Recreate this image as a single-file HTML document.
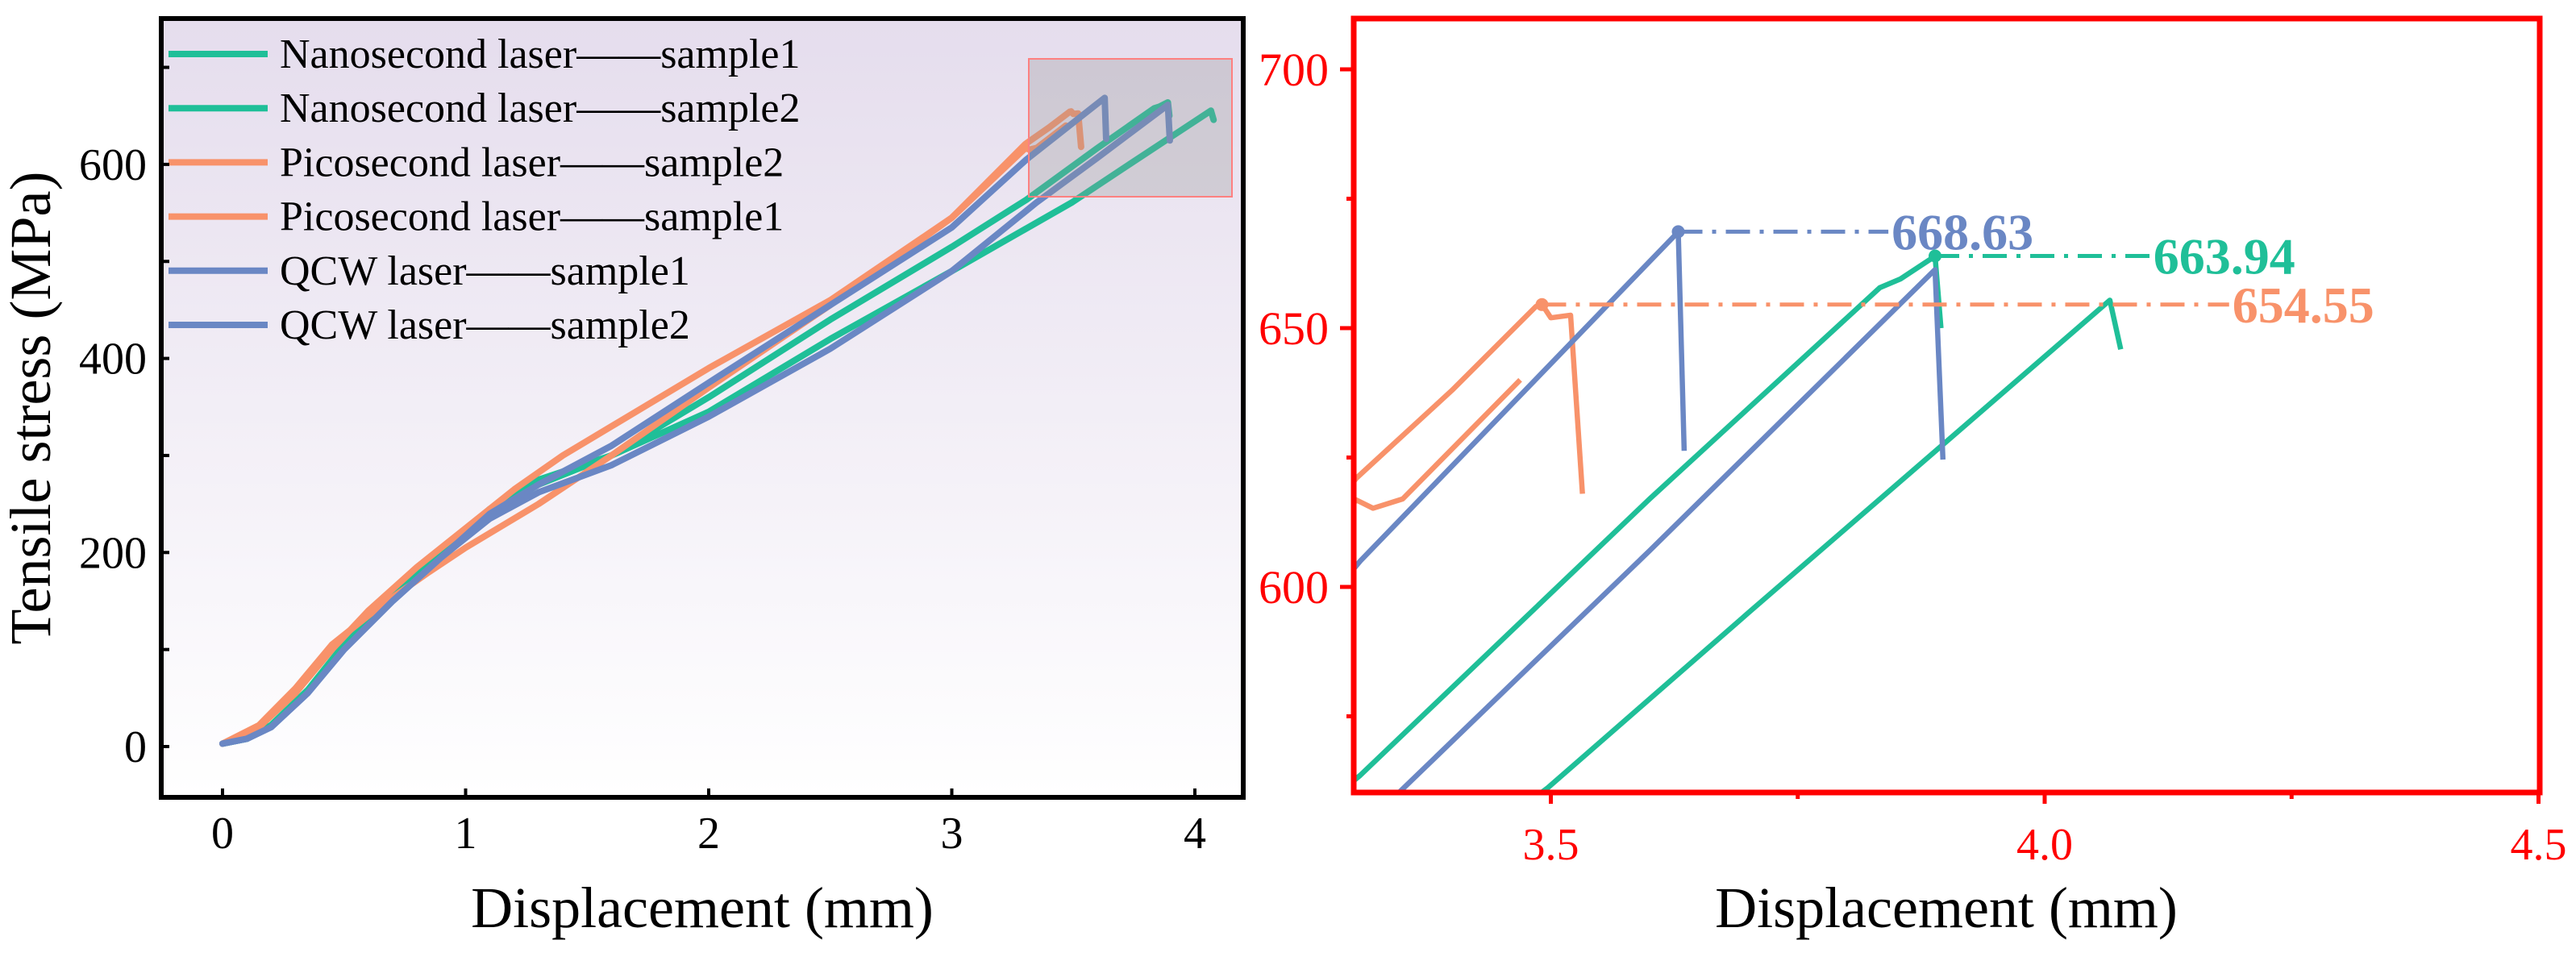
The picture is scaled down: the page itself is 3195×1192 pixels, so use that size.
<!DOCTYPE html>
<html><head><meta charset="utf-8"><style>
html,body{margin:0;padding:0;background:#fff;width:3195px;height:1192px;overflow:hidden;}
svg{display:block;}
text{font-family:"Liberation Serif",serif;}
</style></head><body>
<svg id="chart" width="3195" height="1192" viewBox="0 0 3195 1192" xmlns="http://www.w3.org/2000/svg">
<defs>
<linearGradient id="bg" x1="0" y1="0" x2="0" y2="1">
<stop offset="0" stop-color="#e5dded"/><stop offset="1" stop-color="#ffffff"/>
</linearGradient>
<clipPath id="clipL"><rect x="200" y="23" width="1342" height="966"/></clipPath>
<clipPath id="clipR"><rect x="1679" y="23" width="1471" height="960"/></clipPath>
</defs>
<rect x="200" y="23" width="1342" height="966" fill="url(#bg)"/>
<g id="leftSeries" clip-path="url(#clipL)"></g>
<rect x="1276" y="73" width="252" height="171" fill="rgba(150,150,150,0.3)" stroke="#ff8080" stroke-width="2"/>
<g id="legend"></g>
<rect x="200" y="23" width="1342" height="966" fill="none" stroke="#000" stroke-width="6"/>
<g id="leftAxes"></g>
<text x="871" y="1150" font-size="72" text-anchor="middle">Displacement (mm)</text>
<text transform="translate(62,506) rotate(-90)" font-size="72" text-anchor="middle">Tensile stress (MPa)</text>
<g id="rightSeries" clip-path="url(#clipR)"></g>
<g id="annot"></g>
<rect x="1679" y="23" width="1471" height="960" fill="none" stroke="#ff0000" stroke-width="7"/>
<g id="rightAxes"></g>
<text x="2414" y="1150" font-size="72" text-anchor="middle">Displacement (mm)</text>
</svg>
<script>
const seriesNames = ["Nanosecond laser——sample1","Nanosecond laser——sample2","Picosecond laser——sample2","Picosecond laser——sample1","QCW laser——sample1","QCW laser——sample2"];
const seriesColors = ["#1fbf98","#1fbf98","#f8926a","#f8926a","#6a87c4","#6a87c4"];
const nano1 = [[0,3],[0.1,8],[0.2,22],[0.35,58],[0.5,105],[0.7,155],[0.9,200],[1.1,245],[1.3,275],[1.6,300],[2.0,345],[2.5,420],[3.0,490],[3.497,561.2],[3.7,595],[3.9,628],[4.066,655.4],[4.077,645.9]];
const nano2 = [[0,3],[0.1,8],[0.2,22],[0.35,58],[0.5,105],[0.7,155],[0.9,200],[1.1,240],[1.3,270],[1.6,300],[2.0,360],[2.5,440],[3.0,515],[3.307,563.6],[3.6,617],[3.833,657.8],[3.854,659.5],[3.889,663.9],[3.895,650]];
const pico2 = [[0,3],[0.15,20],[0.3,55],[0.45,100],[0.6,140],[0.8,185],[1.0,225],[1.2,265],[1.4,300],[1.7,345],[2.0,390],[2.5,460],[3.0,545],[3.303,621],[3.4,638],[3.485,654.2],[3.491,654.6],[3.5,652],[3.52,652.5],[3.532,618]];
const pico1 = [[0,3],[0.15,22],[0.3,60],[0.45,105],[0.65,145],[0.85,180],[1.0,205],[1.3,250],[1.6,300],[2.0,370],[2.5,455],[3.0,545],[3.303,616.8],[3.32,615.2],[3.35,617],[3.469,640]];
const qcw1 = [[0,3],[0.1,8],[0.2,20],[0.35,55],[0.5,100],[0.7,150],[0.9,195],[1.1,240],[1.3,270],[1.6,310],[2.0,375],[2.5,455],[3.0,535],[3.307,605],[3.629,668.6],[3.635,626.3]];
const qcw2 = [[0,3],[0.1,8],[0.2,20],[0.35,55],[0.5,100],[0.7,150],[0.9,195],[1.1,235],[1.3,262],[1.6,290],[2.0,340],[2.5,410],[3.0,490],[3.348,560.6],[3.6,607],[3.889,661.3],[3.897,624.6]];
const seriesData = [nano1,nano2,pico2,pico1,qcw1,qcw2];
const leftXTicks = [0,1,2,3,4];
const leftYTicks = [0,200,400,600];
const rightXTicks = [3.5,4.0,4.5];
const rightXMinor = [3.75,4.25];
const rightYTicks = [600,650,700];
const rightYMinor = [575,625,675];
const peakLabels = ["668.63","663.94","654.55"];
const peakX = [3.629,3.889,3.491];
const peakY = [668.63,663.94,654.55];
const peakLabelX = [3.845,4.11,4.19];
const peakColors = ["#6a87c4","#1fbf98","#f8926a"];

const NS="http://www.w3.org/2000/svg";
function mk(tag,attrs,parent){const e=document.createElementNS(NS,tag);for(const k in attrs)e.setAttribute(k,attrs[k]);parent.appendChild(e);return e;}
const lx = v => 276 + v*301.5;
const ly = v => 926 - v*1.2035;
const rx = v => 1923.5 + (v-3.5)*1225;
const ry = v => 728 - (v-600)*6.42;
const R_XMIN = 3.28, R_YMIN = 555;

// clip polyline to half-plane defined by inside(p) with boundary interpolation
function clipHalf(pts, inside, cross){
  const out=[];
  for(let i=0;i<pts.length;i++){
    const p=pts[i], inP=inside(p);
    if(i>0){
      const q=pts[i-1], inQ=inside(q);
      if(inP!==inQ) out.push(cross(q,p));
    }
    if(inP) out.push(p);
  }
  return out;
}
function clipRight(d){
  let pts = clipHalf(d, p=>p[1]>=R_YMIN, (a,b)=>{const t=(R_YMIN-a[1])/(b[1]-a[1]);return [a[0]+t*(b[0]-a[0]),R_YMIN];});
  pts = clipHalf(pts, p=>p[0]>=R_XMIN, (a,b)=>{const t=(R_XMIN-a[0])/(b[0]-a[0]);return [R_XMIN,a[1]+t*(b[1]-a[1])];});
  return pts;
}

const gL=document.getElementById('leftSeries'), gR=document.getElementById('rightSeries');
seriesData.forEach((d,i)=>{
  const p1=mk('polyline',{points:d.map(q=>lx(q[0])+','+ly(q[1])).join(' '),fill:'none',stroke:seriesColors[i],'stroke-width':8,'stroke-linejoin':'round','stroke-linecap':'round'},gL);
  
  
  const rp=clipRight(d);
  const p2=mk('polyline',{points:rp.map(q=>rx(q[0])+','+ry(q[1])).join(' '),fill:'none',stroke:seriesColors[i],'stroke-width':6.5,'stroke-linejoin':'round'},gR);
  
  
});
const gLeg=document.getElementById('legend');
seriesNames.forEach((n,i)=>{
  const y=67+i*67.2;
  const l=mk('line',{x1:209,x2:332,y1:y,y2:y,stroke:seriesColors[i],'stroke-width':8},gLeg);
  
  
  const t=mk('text',{x:347,y:y+17,'font-size':52},gLeg);
  t.textContent=n;
  
  
});
const gLA=document.getElementById('leftAxes');
leftXTicks.forEach(v=>{
  const t=mk('text',{x:lx(v),y:1052,'font-size':56,'text-anchor':'middle'},gLA);t.textContent=v;
  
  
  mk('line',{x1:lx(v),x2:lx(v),y1:989,y2:978,stroke:'#000','stroke-width':4},gLA);
});
leftYTicks.forEach(v=>{
  const t=mk('text',{x:182,y:ly(v)+19,'font-size':56,'text-anchor':'end'},gLA);t.textContent=v;
  
  
});
for(let v=0;v<=700;v+=100){mk('line',{x1:200,x2:210,y1:ly(v),y2:ly(v),stroke:'#000','stroke-width':4},gLA);}
const gRA=document.getElementById('rightAxes');
rightXTicks.forEach(v=>{
  mk('line',{x1:rx(v),x2:rx(v),y1:983,y2:997,stroke:'#f00','stroke-width':5},gRA);
  const t=mk('text',{x:rx(v),y:1066,'font-size':56,'text-anchor':'middle',fill:'#f00'},gRA);t.textContent=v.toFixed(1);
  
  
});
rightXMinor.forEach(v=>mk('line',{x1:rx(v),x2:rx(v),y1:983,y2:991,stroke:'#f00','stroke-width':5},gRA));
rightYTicks.forEach(v=>{
  mk('line',{x1:1662,x2:1679,y1:ry(v),y2:ry(v),stroke:'#f00','stroke-width':5},gRA);
  const t=mk('text',{x:1648,y:ry(v)+20,'font-size':58,'text-anchor':'end',fill:'#f00'},gRA);t.textContent=v;
  
  
});
rightYMinor.forEach(v=>mk('line',{x1:1670,x2:1679,y1:ry(v),y2:ry(v),stroke:'#f00','stroke-width':5},gRA));
const gA=document.getElementById('annot');
peakLabels.forEach((s,i)=>{
  const y=ry(peakY[i]);
  const l=mk('line',{x1:rx(peakX[i]),x2:rx(peakLabelX[i])-4,y1:y,y2:y,stroke:peakColors[i],'stroke-width':5,'stroke-dasharray':'30,12,5,12'},gA);
  
  
  const c=mk('circle',{cx:rx(peakX[i]),cy:y,r:8,fill:peakColors[i]},gA);
  
  
  const t=mk('text',{x:rx(peakLabelX[i]),y:y+22,'font-size':64,'font-weight':'bold',fill:peakColors[i]},gA);
  t.textContent=s;
  
  
});
</script>
</body></html>
